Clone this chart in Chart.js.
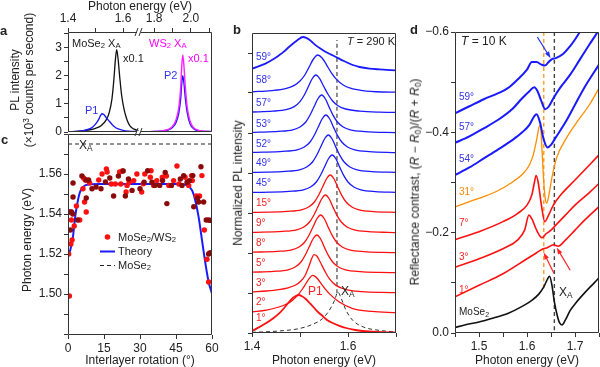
<!DOCTYPE html>
<html>
<head>
<meta charset="utf-8">
<script src="https://cdn.jsdelivr.net/npm/chart.js@4.4.0/dist/chart.umd.min.js"></script>
<style>
  html, body { margin: 0; padding: 0; background: #fff; }
  #fig { position: relative; width: 600px; height: 367px; overflow: hidden;
         font-family: "Liberation Sans", Arial, sans-serif; color: #222; }
  #fig canvas { position: absolute; left: 0; top: 0; }
  .lbl { position: absolute; white-space: nowrap; line-height: 1; transform: translateY(-50%); font-size: 11px; }
  .ctr { transform: translate(-50%, -50%); }
  .rot { position: absolute; white-space: nowrap; line-height: 1.2; text-align: center;
         transform: translate(-50%, -50%) rotate(-90deg); font-size: 12px; }
  .ttl { font-size: 12px; }
  .pan { font-weight: bold; font-size: 13px; }
  sub { font-size: 0.7em; vertical-align: -0.25em; line-height: 0; }
  sup { font-size: 0.7em; vertical-align: 0.45em; line-height: 0; }
  .red { color: #f22; } .blue { color: #33e; } .mag { color: #f0f; } .org { color: #f80; }
</style>
</head>
<body>
<div id="fig">
  <canvas id="a1" width="600" height="367"></canvas>
  <canvas id="a2" width="600" height="367"></canvas>
  <canvas id="c" width="600" height="367"></canvas>
  <canvas id="cLegend" width="600" height="367"></canvas>
  <canvas id="b" width="600" height="367"></canvas>
  <canvas id="d" width="600" height="367"></canvas>

  <!-- panel letters -->
  <div class="lbl pan" style="left:0;top:30px">a</div>
  <div class="lbl pan" style="left:1px;top:139px">c</div>
  <div class="lbl pan" style="left:233px;top:29px">b</div>
  <div class="lbl pan" style="left:410px;top:29px">d</div>

  <!-- panel a -->
  <div class="lbl ctr ttl" style="left:140px;top:6px">Photon energy (eV)</div>
  <div class="rot" style="left:22px;top:80px">PL intensity<br>(×10<sup>3</sup> counts per second)</div>
  <div class="lbl" style="left:72px;top:43px">MoSe<sub>2</sub> X<sub>A</sub></div>
  <div class="lbl" style="left:123px;top:58px">x0.1</div>
  <div class="lbl mag" style="left:149px;top:43px">WS<sub>2</sub> X<sub>A</sub></div>
  <div class="lbl mag" style="left:188px;top:58px">x0.1</div>
  <div class="lbl blue" style="left:85px;top:110px">P1</div>
  <div class="lbl blue" style="left:164px;top:75px">P2</div>

  <!-- panel c -->
  <div class="rot" style="left:27px;top:240px">Photon energy (eV)</div>
  <div class="lbl ctr ttl" style="left:140px;top:360px">Interlayer rotation (°)</div>
  <div class="lbl" style="left:79px;top:145px;font-size:12px">X<sub>A</sub></div>
  <div class="lbl" style="left:118px;top:237px">MoSe<sub>2</sub>/WS<sub>2</sub></div>
  <div class="lbl" style="left:118px;top:251px">Theory</div>
  <div class="lbl" style="left:118px;top:265px">MoSe<sub>2</sub></div>

  <!-- panel b -->
  <div class="rot" style="left:238px;top:183px">Normalized PL intensity</div>
  <div class="lbl ctr ttl" style="left:324px;top:360px">Photon energy (eV)</div>
  <div class="lbl" style="left:347px;top:41px"><i>T</i> = 290 K</div>
  <div class="lbl red" style="left:308px;top:291px;font-size:12px">P1</div>
  <div class="lbl" style="left:341px;top:291px;font-size:12px">X<sub>A</sub></div>
  <div id="bLabels"></div>

  <!-- panel d -->
  <div class="rot" style="left:415px;top:182px">Reflectance contrast, (<i>R</i> − <i>R</i><sub>0</sub>)/(<i>R</i> + <i>R</i><sub>0</sub>)</div>
  <div class="lbl ctr ttl" style="left:527px;top:360px">Photon energy (eV)</div>
  <div class="lbl" style="left:461px;top:41px;font-size:12px"><i>T</i> = 10 K</div>
  <div class="lbl" style="left:559px;top:292px;font-size:12px">X<sub>A</sub></div>
  <div id="dLabels"></div>
</div>

<script>
// ---------- data: panel a (PL spectra, left and right of the axis break) ----------
const aMoSe2 = [[1.40,0.01],[1.44,0.03],[1.48,0.08],[1.50,0.13],[1.52,0.22],[1.54,0.45],[1.55,0.7],[1.56,1.2],
  [1.567,1.9],[1.572,2.55],[1.577,2.93],[1.582,2.6],[1.588,1.95],[1.595,1.3],[1.605,0.75],[1.615,0.42],
  [1.625,0.22],[1.64,0.1],[1.66,0.04]];
const aHeteroLow = [[1.40,0.0],[1.43,0.02],[1.46,0.06],[1.48,0.12],[1.49,0.18],[1.50,0.28],[1.51,0.42],
  [1.518,0.58],[1.523,0.65],[1.53,0.62],[1.54,0.5],[1.55,0.38],[1.56,0.27],[1.57,0.18],[1.58,0.12],
  [1.60,0.06],[1.62,0.03],[1.66,0.01]];
const aWS2Low = [[1.40,0.0],[1.66,0.0]];
const aWS2 = [[1.72,0.0],[1.80,0.02],[1.85,0.05],[1.88,0.1],[1.90,0.2],[1.92,0.45],[1.935,0.9],[1.945,1.6],
  [1.95,2.3],[1.956,2.74],[1.963,2.3],[1.97,1.6],[1.98,0.9],[1.995,0.4],[2.015,0.15],[2.05,0.05],[2.12,0.01]];
const aHeteroHigh = [[1.72,0.0],[1.80,0.02],[1.85,0.04],[1.88,0.08],[1.90,0.16],[1.92,0.35],[1.935,0.7],
  [1.945,1.2],[1.95,1.7],[1.956,2.0],[1.963,1.7],[1.97,1.2],[1.98,0.7],[1.995,0.3],[2.015,0.12],[2.05,0.04],[2.12,0.01]];

// ---------- data: panel c (PL peak energy vs twist angle) ----------
const cHeteroA = [[0.6,1.499],[0.3,1.520],[1.2,1.525],[1.7,1.527],[1.2,1.541],[1.4,1.537],[2.6,1.534],[3.5,1.544],
  [4.9,1.537],[6.5,1.558],[7.2,1.557],[6.25,1.5526],[6.9,1.546],[7.6,1.541],[9.0,1.5555],[12.8,1.557],
  [14.2,1.560],[16.0,1.5625],[16.3,1.561],[18.0,1.555],[19.7,1.555],[21.5,1.561],[22.0,1.555],[22.6,1.5615],
  [24.2,1.551],[24.6,1.5543],[25.5,1.5559],[27.4,1.5567],[28.7,1.560],[30.7,1.551],[31.4,1.5551],[32.0,1.56],
  [34.3,1.5584],[34.6,1.5616],[35.7,1.5543],[37.0,1.5567],[39.3,1.5584],[41.0,1.559],[42.0,1.5543],[44.0,1.5567],
  [45.4,1.564],[46.2,1.555],[48.8,1.5584],[50.3,1.5543],[51.5,1.5592],[51.8,1.5567],[53.5,1.549],[54.8,1.549],
  [55.8,1.5592],[56.8,1.532],[57.9,1.5174],[59.0,1.5205],[58.6,1.506]];
const cHeteroB = [[1.0,1.532],[0.6,1.541],[1.5,1.541],[2.0,1.540],[2.1,1.5485],[2.1,1.5555],[4.0,1.537],[5.8,1.559],
  [7.6,1.557],[7.6,1.548],[8.6,1.557],[10.0,1.5526],[11.7,1.5535],[13.75,1.5526],[15.6,1.556],[17.4,1.558],
  [19.0,1.549],[21.0,1.559],[23.0,1.5615],[23.9,1.549],[25.2,1.5575],[26.7,1.5518],[30.0,1.5526],[31.7,1.5559],
  [33.2,1.5616],[35.0,1.5559],[36.2,1.5543],[38.2,1.5543],[39.4,1.5567],[40.5,1.5608],[41.2,1.5452],[43.1,1.5543],
  [46.8,1.5575],[47.5,1.5543],[48.2,1.5592],[49.6,1.5559],[50.6,1.5567],[52.0,1.5592],[52.4,1.5436],[54.0,1.548],
  [54.4,1.546],[55.4,1.5636],[56.5,1.546],[57.6,1.537],[58.6,1.537],[58.6,1.52],[59.4,1.5368],[59.4,1.5205]];
const cTheory = [[0,1.519],[1,1.5223],[2,1.528],[3,1.5387],[4,1.546],[5,1.551],[6.5,1.5538],[8.6,1.5548],
  [13.5,1.555],[30,1.555],[47,1.555],[49.6,1.5543],[51.7,1.5518],[53,1.5469],[54.4,1.5387],[55.8,1.5272],
  [57.2,1.5157],[58.6,1.506],[60,1.5002]];
const cMoSe2 = 1.575;

// ---------- data: panel b (normalized PL, 290 K, stacked by angle) ----------
const bAngles = ['1°','2°','3°','5°','8°','9°','15°','45°','49°','52°','53°','57°','58°','59°'];
const pl1 = [[1.40,0.1],[1.428,0.47],[1.445,0.75],[1.456,0.97],[1.467,1.25],[1.477,1.55],[1.485,1.75],[1.491,1.85],
  [1.497,1.9],[1.504,1.84],[1.512,1.7],[1.52,1.5],[1.526,1.35],[1.536,1.08],[1.547,0.85],[1.558,0.62],[1.568,0.5],
  [1.582,0.36],[1.596,0.25],[1.615,0.15],[1.63,0.1],[1.66,0.05],[1.70,0.03]];
const pl2 = [[1.40,0.05],[1.43,0.14],[1.456,0.3],[1.472,0.45],[1.484,0.63],[1.495,0.88],[1.505,1.2],[1.513,1.5],
  [1.519,1.72],[1.526,1.88],[1.532,1.82],[1.537,1.7],[1.547,1.37],[1.561,0.97],[1.582,0.55],[1.61,0.22],[1.65,0.08],[1.70,0.02]];
const pl3 = [[1.40,0.05],[1.43,0.1],[1.456,0.17],[1.475,0.26],[1.491,0.4],[1.502,0.6],[1.510,0.85],[1.518,1.3],
  [1.524,1.7],[1.529,1.92],[1.535,1.85],[1.541,1.6],[1.551,1.13],[1.561,0.72],[1.575,0.38],[1.596,0.17],[1.63,0.07],
  [1.67,0.03],[1.70,0.02]];
const pl5 = [[1.40,0.04],[1.445,0.08],[1.475,0.16],[1.490,0.3],[1.502,0.55],[1.511,0.9],[1.519,1.3],[1.527,1.7],
  [1.535,1.9],[1.543,1.7],[1.551,1.28],[1.559,0.88],[1.568,0.55],[1.580,0.3],[1.595,0.16],[1.625,0.07],[1.665,0.03],[1.70,0.02]];
const pl8 = [[1.40,0.04],[1.453,0.08],[1.483,0.16],[1.498,0.3],[1.510,0.55],[1.519,0.9],[1.527,1.3],[1.535,1.7],
  [1.543,1.9],[1.551,1.7],[1.559,1.28],[1.567,0.88],[1.576,0.55],[1.588,0.3],[1.603,0.16],[1.633,0.07],[1.673,0.03],[1.70,0.02]];
const pl9 = [[1.40,0.03],[1.463,0.08],[1.493,0.16],[1.508,0.3],[1.520,0.55],[1.529,0.9],[1.537,1.3],[1.545,1.7],
  [1.553,1.9],[1.561,1.7],[1.569,1.28],[1.577,0.88],[1.586,0.55],[1.598,0.3],[1.613,0.16],[1.643,0.07],[1.683,0.03],[1.70,0.02]];
const pl15 = [[1.40,0.03],[1.433,0.04],[1.473,0.08],[1.503,0.16],[1.518,0.3],[1.530,0.55],[1.539,0.9],[1.547,1.3],
  [1.555,1.7],[1.563,1.9],[1.571,1.7],[1.579,1.28],[1.587,0.88],[1.596,0.55],[1.608,0.3],[1.623,0.16],[1.653,0.07],[1.70,0.03]];
const pl45 = [[1.40,0.03],[1.437,0.04],[1.477,0.08],[1.507,0.16],[1.522,0.3],[1.534,0.55],[1.543,0.9],[1.551,1.3],
  [1.559,1.7],[1.567,1.9],[1.575,1.7],[1.583,1.28],[1.591,0.88],[1.600,0.55],[1.612,0.3],[1.627,0.16],[1.657,0.07],[1.70,0.03]];
const pl49 = [[1.40,0.03],[1.429,0.04],[1.469,0.08],[1.499,0.16],[1.514,0.3],[1.526,0.55],[1.535,0.9],[1.543,1.3],
  [1.551,1.7],[1.559,1.9],[1.567,1.7],[1.575,1.28],[1.583,0.88],[1.592,0.55],[1.604,0.3],[1.619,0.16],[1.649,0.07],[1.70,0.03]];
const pl52 = [[1.40,0.03],[1.424,0.04],[1.464,0.08],[1.494,0.16],[1.509,0.3],[1.521,0.55],[1.530,0.9],[1.538,1.3],
  [1.546,1.7],[1.554,1.9],[1.562,1.7],[1.570,1.28],[1.578,0.88],[1.587,0.55],[1.599,0.3],[1.614,0.16],[1.644,0.07],[1.70,0.02]];
const pl53 = [[1.40,0.03],[1.415,0.04],[1.455,0.08],[1.485,0.16],[1.500,0.3],[1.512,0.55],[1.521,0.9],[1.529,1.3],
  [1.537,1.7],[1.545,1.9],[1.553,1.7],[1.561,1.28],[1.569,0.88],[1.578,0.55],[1.590,0.3],[1.605,0.16],[1.635,0.07],[1.70,0.02]];
const pl57 = [[1.40,0.05],[1.443,0.09],[1.473,0.18],[1.488,0.32],[1.500,0.57],[1.509,0.9],[1.517,1.3],[1.525,1.7],
  [1.533,1.9],[1.541,1.72],[1.549,1.35],[1.558,0.95],[1.568,0.6],[1.580,0.35],[1.595,0.2],[1.625,0.09],[1.665,0.04],[1.70,0.03]];
const pl58 = [[1.40,0.06],[1.44,0.12],[1.47,0.22],[1.488,0.38],[1.500,0.6],[1.510,0.9],[1.519,1.3],[1.528,1.7],
  [1.537,1.9],[1.546,1.75],[1.555,1.42],[1.565,1.02],[1.576,0.68],[1.59,0.4],[1.605,0.24],[1.63,0.12],[1.67,0.05],[1.70,0.04]];
const pl59 = [[1.40,0.22],[1.428,0.47],[1.445,0.7],[1.456,0.88],[1.467,1.08],[1.477,1.3],[1.487,1.5],[1.495,1.65],
  [1.506,1.8],[1.513,1.76],[1.519,1.68],[1.526,1.53],[1.533,1.38],[1.544,1.2],[1.554,1.05],[1.565,0.92],[1.575,0.8],
  [1.585,0.67],[1.596,0.55],[1.61,0.4],[1.624,0.3],[1.645,0.22],[1.666,0.18],[1.70,0.13]];
const plB = [pl1, pl2, pl3, pl5, pl8, pl9, pl15, pl45, pl49, pl52, pl53, pl57, pl58, pl59];
const bMoSe2 = [[1.40,0.03],[1.456,0.1],[1.498,0.22],[1.526,0.43],[1.547,0.72],[1.561,1.13],[1.572,1.63],[1.579,2.05],
  [1.586,1.72],[1.596,1.13],[1.61,0.63],[1.632,0.3],[1.666,0.13],[1.70,0.05]];
const bXA = 1.577;

// ---------- data: panel d (reflectance contrast, 10 K, offset curves) ----------
const dAngles = ['59°','57°','54°','31°','7°','3°','1°'];
const rc59 = [[1.45,-0.438],[1.48,-0.452],[1.51,-0.466],[1.54,-0.478],[1.56,-0.488],[1.58,-0.505],[1.60,-0.525],
  [1.61,-0.54],[1.62,-0.54],[1.63,-0.535],[1.637,-0.533],[1.645,-0.540],[1.652,-0.546],[1.66,-0.548],[1.675,-0.556],
  [1.69,-0.572],[1.70,-0.585],[1.71,-0.6],[1.72,-0.615]];
const rc57 = [[1.45,-0.379],[1.48,-0.392],[1.51,-0.408],[1.54,-0.425],[1.57,-0.447],[1.59,-0.468],[1.605,-0.482],
  [1.615,-0.49],[1.622,-0.482],[1.63,-0.462],[1.638,-0.446],[1.645,-0.451],[1.655,-0.468],[1.67,-0.49],
  [1.69,-0.515],[1.71,-0.545],[1.73,-0.575],[1.75,-0.604]];
const rc54 = [[1.45,-0.315],[1.48,-0.33],[1.51,-0.348],[1.54,-0.366],[1.57,-0.385],[1.59,-0.4],[1.605,-0.415],
  [1.615,-0.432],[1.62,-0.436],[1.627,-0.42],[1.635,-0.385],[1.643,-0.37],[1.65,-0.375],[1.66,-0.39],[1.68,-0.42],
  [1.70,-0.455],[1.72,-0.49],[1.75,-0.535]];
const rc31 = [[1.45,-0.251],[1.48,-0.262],[1.51,-0.272],[1.54,-0.284],[1.565,-0.298],[1.592,-0.318],[1.605,-0.335],
  [1.613,-0.355],[1.62,-0.385],[1.625,-0.41],[1.628,-0.415],[1.631,-0.37],[1.635,-0.3],[1.638,-0.268],[1.641,-0.259],
  [1.645,-0.272],[1.652,-0.31],[1.662,-0.35],[1.68,-0.385],[1.70,-0.415],[1.73,-0.455],[1.75,-0.488]];
const rc7 = [[1.45,-0.186],[1.50,-0.202],[1.55,-0.222],[1.58,-0.238],[1.60,-0.255],[1.61,-0.275],[1.615,-0.298],
  [1.619,-0.314],[1.623,-0.302],[1.63,-0.255],[1.637,-0.222],[1.645,-0.235],[1.655,-0.255],[1.67,-0.275],
  [1.70,-0.305],[1.73,-0.335],[1.75,-0.355]];
const rc3 = [[1.45,-0.131],[1.50,-0.148],[1.55,-0.168],[1.58,-0.185],[1.595,-0.205],[1.604,-0.235],[1.61,-0.228],
  [1.62,-0.205],[1.631,-0.19],[1.64,-0.198],[1.65,-0.205],[1.66,-0.215],[1.68,-0.235],[1.70,-0.255],[1.73,-0.28],
  [1.75,-0.298]];
const rc1 = [[1.45,-0.072],[1.50,-0.095],[1.55,-0.118],[1.60,-0.148],[1.62,-0.16],[1.634,-0.168],[1.642,-0.17],
  [1.655,-0.176],[1.665,-0.173],[1.68,-0.185],[1.70,-0.205],[1.72,-0.225],[1.75,-0.252]];
const rcMoSe2 = [[1.45,-0.011],[1.47,-0.016],[1.50,-0.022],[1.53,-0.03],[1.56,-0.039],[1.59,-0.053],[1.61,-0.065],
  [1.625,-0.078],[1.635,-0.092],[1.643,-0.108],[1.647,-0.113],[1.652,-0.095],[1.657,-0.062],[1.663,-0.035],
  [1.668,-0.02],[1.673,-0.016],[1.68,-0.026],[1.69,-0.045],[1.70,-0.058],[1.72,-0.08],[1.74,-0.1],[1.75,-0.11]];
const dHetero = 1.635;   // orange dashed marker
const dMoSe2 = 1.657;    // grey dashed marker (MoSe2 X_A)
const dArrows = [
  { from: [1.6215, -0.590], to: [1.649, -0.548], color: '#2233ee' },
  { from: [1.656, -0.119], to: [1.635, -0.160], color: '#f22' },
  { from: [1.690, -0.125], to: [1.662, -0.170], color: '#f22' },
];

// ---------- helpers ----------
const W = 600, H = 367;
const FONT = '"Liberation Sans", Arial, sans-serif';
const INK = '#333';
const RED = '#ff1010', BLUE = '#1a1aff', MAG = '#ff20ff', ORANGE = '#ff8c00', DARKRED = '#8a0a0a';

Chart.defaults.font.family = FONT;
Chart.defaults.color = '#222';
Chart.defaults.animation = false;
Chart.defaults.events = [];
Chart.defaults.plugins.legend.display = false;
Chart.defaults.plugins.tooltip.enabled = false;

const pts = arr => arr.map(([x, y]) => ({ x, y }));

// force exact axis box size so the plot areas line up with the figure
function fitTo(size) {
  return s => {
    if (s.isHorizontal()) s.height = size; else s.width = size;
    s.paddingLeft = s.paddingRight = s.paddingTop = s.paddingBottom = 0;
  };
}

function tickOpts(extra) {
  return Object.assign({ font: { size: 12 }, padding: 2, maxRotation: 0, autoSkip: false,
    includeBounds: false, color: '#222' }, extra);
}

function axis(extra) {
  return Object.assign({
    type: 'linear',
    grid: { drawOnChartArea: false, drawTicks: true, tickLength: 4, color: INK, lineWidth: 1 },
    border: { display: false },
    ticks: tickOpts({}),
  }, extra);
}

const framePlugin = {
  id: 'frame',
  afterDatasetsDraw(chart, args, opts) {
    const { ctx, chartArea: a } = chart;
    const s = opts.sides || 'ltrb';
    ctx.save();
    ctx.strokeStyle = INK;
    ctx.lineWidth = 1;
    ctx.beginPath();
    const L = Math.round(a.left) + 0.5, R = Math.round(a.right) - 0.5;
    const T = Math.round(a.top) + 0.5, B = Math.round(a.bottom) - 0.5;
    if (s.includes('l')) { ctx.moveTo(L, T); ctx.lineTo(L, B); }
    if (s.includes('r')) { ctx.moveTo(R, T); ctx.lineTo(R, B); }
    if (s.includes('t')) { ctx.moveTo(L, T); ctx.lineTo(R, T); }
    if (s.includes('b')) { ctx.moveTo(L, B); ctx.lineTo(R, B); }
    ctx.stroke();
    if (opts.breakMark) {
      // "//" marks on top and bottom axis where panel a is broken
      for (const y of [a.top, a.bottom]) {
        ctx.fillStyle = '#fff';
        ctx.fillRect(a.left - 2, y - 1.5, 4, 3);
        ctx.beginPath();
        ctx.moveTo(a.left - 4, y + 4); ctx.lineTo(a.left - 1, y - 4);
        ctx.moveTo(a.left - 0, y + 4); ctx.lineTo(a.left + 3, y - 4);
        ctx.stroke();
      }
    }
    ctx.restore();
  }
};

const arrowPlugin = {
  id: 'arrows',
  afterDatasetsDraw(chart, args, opts) {
    if (!opts.list) return;
    const { ctx, scales: { x, y } } = chart;
    ctx.save();
    for (const a of opts.list) {
      const x0 = x.getPixelForValue(a.from[0]), y0 = y.getPixelForValue(a.from[1]);
      const x1 = x.getPixelForValue(a.to[0]), y1 = y.getPixelForValue(a.to[1]);
      const ang = Math.atan2(y1 - y0, x1 - x0);
      ctx.strokeStyle = a.color; ctx.fillStyle = a.color; ctx.lineWidth = 1.2;
      ctx.beginPath(); ctx.moveTo(x0, y0); ctx.lineTo(x1 - 4 * Math.cos(ang), y1 - 4 * Math.sin(ang)); ctx.stroke();
      ctx.beginPath();
      ctx.moveTo(x1, y1);
      ctx.lineTo(x1 - 7 * Math.cos(ang - 0.35), y1 - 7 * Math.sin(ang - 0.35));
      ctx.lineTo(x1 - 7 * Math.cos(ang + 0.35), y1 - 7 * Math.sin(ang + 0.35));
      ctx.closePath(); ctx.fill();
    }
    ctx.restore();
  }
};

// box = [left, top, right, bottom] of the plot area in page pixels
function plot(id, box, xs, ys, datasets, pluginOpts) {
  const [l, t, r, b] = box;
  const xTop = xs.position === 'top';
  xs.afterFit = fitTo(xTop ? t : H - b);
  const yShown = ys.display !== false;
  if (yShown) ys.afterFit = fitTo(l);
  return new Chart(document.getElementById(id), {
    type: 'scatter',
    data: { datasets },
    options: {
      responsive: false,
      devicePixelRatio: 1,
      layout: { padding: { left: yShown ? 0 : l, right: W - r, top: xTop ? 0 : t, bottom: xTop ? H - b : 0 } },
      scales: { x: xs, y: ys },
      plugins: Object.assign({ frame: {}, arrows: {} }, pluginOpts || {}),
    },
    plugins: [framePlugin, arrowPlugin],
  });
}

function line(data, color, width, extra) {
  return Object.assign({ data: pts(data), showLine: true, pointRadius: 0, borderColor: color,
    borderWidth: width, cubicInterpolationMode: 'monotone', fill: false }, extra || {});
}
const near = (v, list) => list.some(t => Math.abs(v - t) < 1e-6);

// ---------- panel a: split x axis ----------
plot('a1', [68, 32, 139, 132],
  axis({ position: 'top', min: 1.4, max: 1.658,
    ticks: tickOpts({ stepSize: 0.1, callback: v => near(v, [1.4, 1.6]) ? v.toFixed(1) : '' }) }),
  axis({ min: 0, max: 3.56,
    ticks: tickOpts({ stepSize: 0.5, callback: v => near(v, [0, 1, 2, 3]) ? String(v) : '' }) }),
  [line(aWS2Low, MAG, 1.4), line(aHeteroLow, BLUE, 1.4), line(aMoSe2, '#111', 1.3)],
  { frame: { sides: 'ltb' } });

plot('a2', [139, 32, 212, 132],
  axis({ position: 'top', min: 1.718, max: 2.115,
    ticks: tickOpts({ stepSize: 0.1, callback: v => near(v, [1.8, 2.0]) ? v.toFixed(1) : '' }) }),
  axis({ display: false, min: 0, max: 3.56 }),
  [line(aWS2, MAG, 1.4), line(aHeteroHigh, BLUE, 1.4)],
  { frame: { sides: 'trb', breakMark: true } });

// ---------- panel c ----------
plot('c', [68, 134, 212, 335],
  axis({ min: 0, max: 60, ticks: tickOpts({ stepSize: 15 }) }),
  axis({ min: 1.4795, max: 1.58,
    ticks: tickOpts({ stepSize: 0.01, callback: v => near(v, [1.50, 1.52, 1.54, 1.56]) ? v.toFixed(2) : '' }) }),
  [
    { data: pts(cHeteroB), pointRadius: 2.7, pointBackgroundColor: DARKRED, pointBorderWidth: 0 },
    { data: pts(cHeteroA), pointRadius: 2.7, pointBackgroundColor: RED, pointBorderWidth: 0 },
    line(cTheory, BLUE, 2),
    line([[0, cMoSe2], [60, cMoSe2]], '#222', 1, { borderDash: [4, 3] }),
  ]);

// legend marks for panel c
const g = document.getElementById('cLegend').getContext('2d');
g.fillStyle = RED; g.beginPath(); g.arc(107.5, 237, 2.8, 0, Math.PI * 2); g.fill();
g.strokeStyle = BLUE; g.lineWidth = 2; g.beginPath(); g.moveTo(100, 251.5); g.lineTo(115, 251.5); g.stroke();
g.strokeStyle = '#222'; g.lineWidth = 1; g.setLineDash([4, 3]); g.beginPath(); g.moveTo(100, 265.5); g.lineTo(115, 265.5); g.stroke();

// ---------- panel b ----------
const bSets = plB.map((c, i) => line(c.map(([e, v]) => [e, v + i]), i < 7 ? RED : BLUE,
  (i === 0 || i === 13) ? 1.8 : 1.3));
bSets.push(line(bMoSe2, '#333', 1, { borderDash: [4, 3] }));
bSets.push(line([[bXA, 2.0], [bXA, 14.65]], '#444', 1.2, { borderDash: [4, 3] }));
plot('b', [252, 33, 396, 333],
  axis({ min: 1.4, max: 1.7,
    ticks: tickOpts({ stepSize: 0.1, callback: v => near(v, [1.4, 1.6]) ? v.toFixed(1) : '' }) }),
  axis({ min: 0, max: 15, ticks: tickOpts({ stepSize: 2, callback: () => '' }) }),
  bSets);

// ---------- panel d ----------
const dSets = [
  line(rc59, BLUE, 2), line(rc57, BLUE, 2), line(rc54, BLUE, 2), line(rc31, ORANGE, 1.3),
  line(rc7, RED, 1.6), line(rc3, RED, 1.6), line(rc1, RED, 1.6), line(rcMoSe2, '#111', 1.6),
  line([[dHetero, -0.6], [dHetero, -0.085]], ORANGE, 1.2, { borderDash: [4, 3] }),
  line([[dMoSe2, -0.6], [dMoSe2, -0.005]], '#444', 1.4, { borderDash: [4, 3] }),
];
plot('d', [455, 32, 599, 333],
  axis({ min: 1.45, max: 1.75,
    ticks: tickOpts({ stepSize: 0.05, callback: v => near(v, [1.5, 1.6, 1.7]) ? v.toFixed(1) : '' }) }),
  axis({ min: -0.6, max: 0, reverse: true,
    ticks: tickOpts({ stepSize: 0.1,
      callback: v => near(v, [0, -0.2, -0.4, -0.6]) ? (v < -1e-9 ? '\u2212' : '') + Math.abs(v).toFixed(1) : '' }) }),
  dSets,
  { arrows: { list: dArrows } });

// ---------- curve labels ----------
const bLabelTop = [318, 302, 283, 263, 243, 223, 203, 183, 163, 144, 124, 103, 80, 57];
document.getElementById('bLabels').innerHTML = bAngles.map((t, i) =>
  `<div class="lbl ${i < 7 ? 'red' : 'blue'}" style="left:256px;top:${bLabelTop[i]}px;font-size:10px">${t}</div>`).join('');

const dLabelTop = [97, 127, 159, 192, 223, 257, 290];
const dLabelCls = ['blue', 'blue', 'blue', 'org', 'red', 'red', 'red'];
document.getElementById('dLabels').innerHTML = dAngles.map((t, i) =>
  `<div class="lbl ${dLabelCls[i]}" style="left:459px;top:${dLabelTop[i]}px;font-size:10px">${t}</div>`).join('') +
  `<div class="lbl" style="left:459px;top:312px;font-size:10px">MoSe<sub>2</sub></div>`;
</script>
</body>
</html>
